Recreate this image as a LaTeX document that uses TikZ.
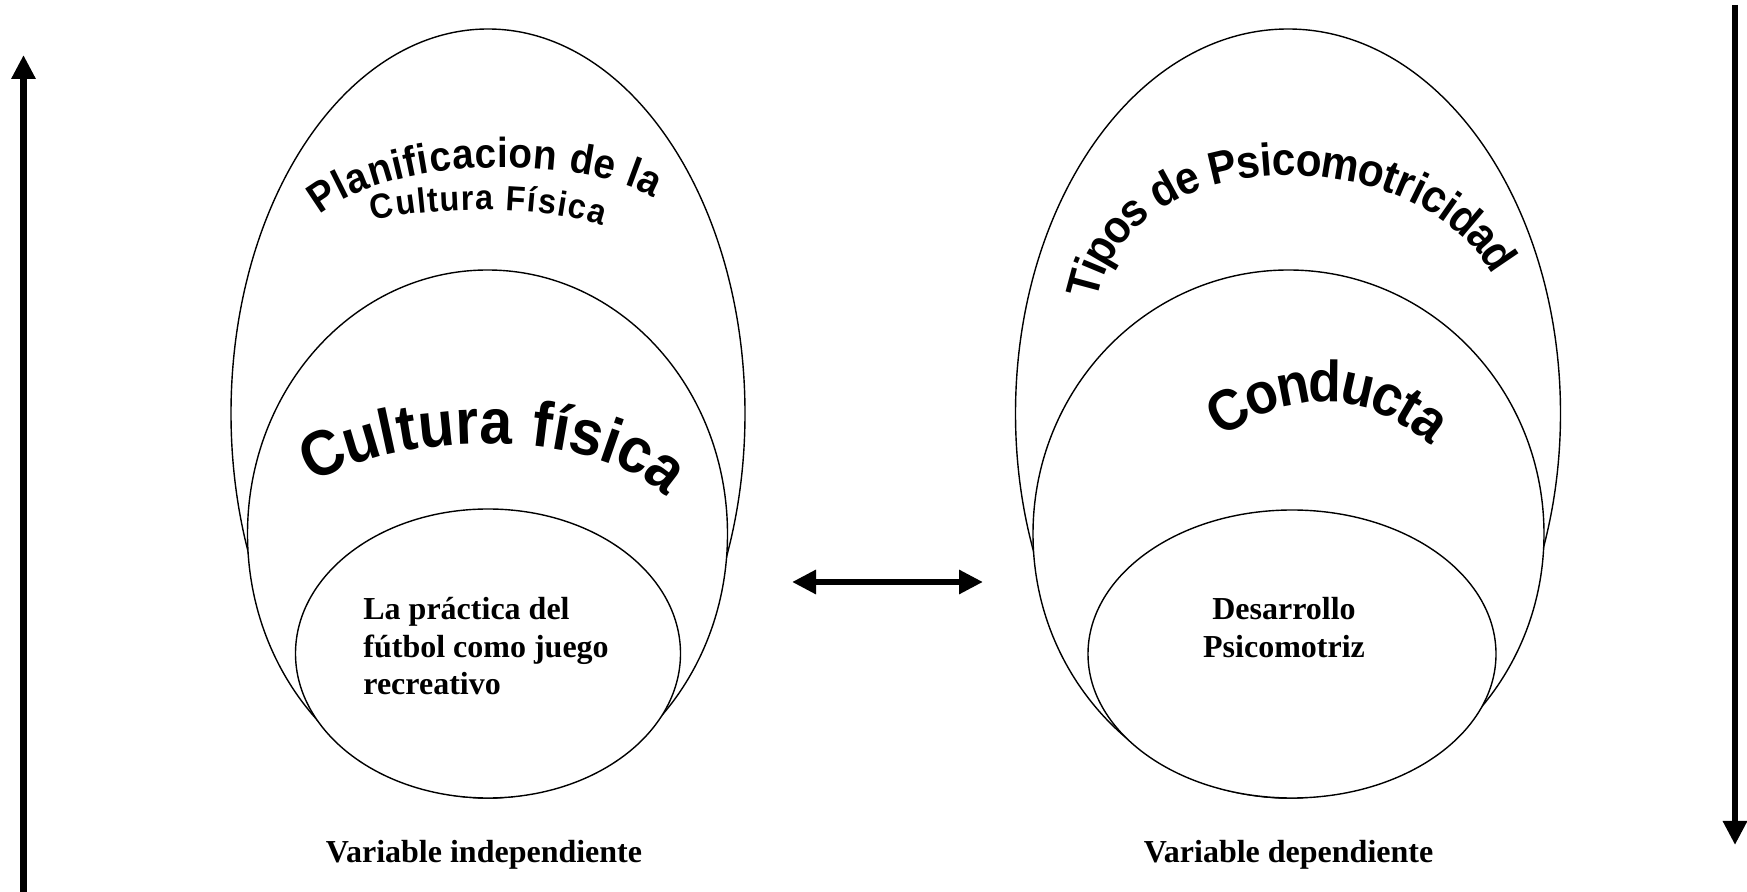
\documentclass[tikz,border=0pt]{standalone}
\usepackage{fontspec}
\setmainfont{Liberation Serif}
\newfontfamily\arcfont[FakeStretch=0.92]{Liberation Sans}
\usetikzlibrary{arrows.meta,decorations.text}
\begin{document}
\begin{tikzpicture}[x=0.5pt,y=-0.5pt,
  ring/.style={draw=black,line width=0.7pt,fill=white},
  bigarrow/.style={line width=3.3pt,-{Triangle[length=12pt,width=11.5pt]}},
  dblarrow/.style={line width=3.3pt,{Triangle[length=12pt,width=11.5pt]}-{Triangle[length=12pt,width=11.5pt]}},
  vartext/.style={inner sep=0pt,font=\bfseries\fontsize{16pt}{19pt}\selectfont},
  arctext/.style 2 args={decorate,decoration={text along path,text align={fit to path},raise=#1,
    text={|\arcfont\bfseries\fontsize{#2}{#2}\selectfont|}}},
]
\useasboundingbox (0,0) rectangle (1747,892);
\fill[white] (0,0) rectangle (1747,892);

% ---- left group ----
\coordinate (LO) at (488,413.5);
\coordinate (LM) at (487.5,534);
\coordinate (LI) at (488,653.5);
\draw[ring] (LO) ellipse [x radius=257, y radius=384.5];
\draw[ring] (LM) ellipse [x radius=240, y radius=264];
\draw[ring] (LI) ellipse [x radius=192.5, y radius=144.5];

\path[decorate,decoration={text along path,text align={fit to path},
  text={|\arcfont\bfseries\fontsize{21pt}{21pt}\selectfont|Planificacion de la}}]
  (320,215) .. controls (388.9,157.1) and (576.1,153) .. (654,198);
\path[decorate,decoration={text along path,text align={fit to path},
  text={|\arcfont\bfseries\fontsize{17.5pt}{17.5pt}\selectfont|Cultura Física}}]
  (373,221) .. controls (431,205.5) and (546.6,205.5) .. (603,226);
\path[decorate,decoration={text along path,text align={fit to path},raise=-11.5pt,
  text={|\arcfont\bfseries\fontsize{32pt}{32pt}\selectfont|Cultura física}}]
  (302.8,462.5) .. controls (393.5,405.8) and (603.7,403.1) .. (679.3,478.7);

\node[vartext,anchor=base west] (l1) at (363,620) {La práctica del};
\node[vartext,anchor=base west] (l2) at (363,657.5) {fútbol como juego};
\node[vartext,anchor=base west] (l3) at (363,695) {recreativo};
\node[vartext,anchor=base] (vi) at (484,863) {Variable independiente};

% ---- right group ----
\coordinate (RO) at (1288,413.5);
\coordinate (RM) at (1288.5,534);
\coordinate (RI) at (1292,654);
\draw[ring] (RO) ellipse [x radius=272.5, y radius=384.5];
\draw[ring] (RM) ellipse [x radius=255.5, y radius=264];
\draw[ring] (RI) ellipse [x radius=204, y radius=144];

\path[decorate,decoration={text along path,text align={fit to path},raise=-8pt,
  text={|\arcfont\bfseries\fontsize{23pt}{23pt}\selectfont|Tipos de Psicomotricidad}}]
  (1082,297) .. controls (1112.5,124.6) and (1418.5,114.5) .. (1506,266);
\path[decorate,decoration={text along path,text align={fit to path},raise=-10.5pt,
  text={|\arcfont\bfseries\fontsize{29pt}{29pt}\selectfont|Conducta}}]
  (1211,420) .. controls (1289,365.3) and (1370.5,367.7) .. (1443.5,429);

\node[vartext,anchor=base] (r1) at (1284,620) {Desarrollo};
\node[vartext,anchor=base] (r2) at (1284,658) {Psicomotriz};
\node[vartext,anchor=base] (vd) at (1288.5,863) {Variable dependiente};

% ---- arrows ----
\coordinate (upA) at (23.5,892);
\coordinate (upB) at (23.5,55);
\draw[bigarrow] (upA) -- (upB);
\coordinate (dnA) at (1735,5);
\coordinate (dnB) at (1735,845);
\draw[bigarrow] (dnA) -- (dnB);
\coordinate (hA) at (792,582);
\coordinate (hB) at (983,582);
\draw[dblarrow] (hA) -- (hB);
\end{tikzpicture}
\end{document}
